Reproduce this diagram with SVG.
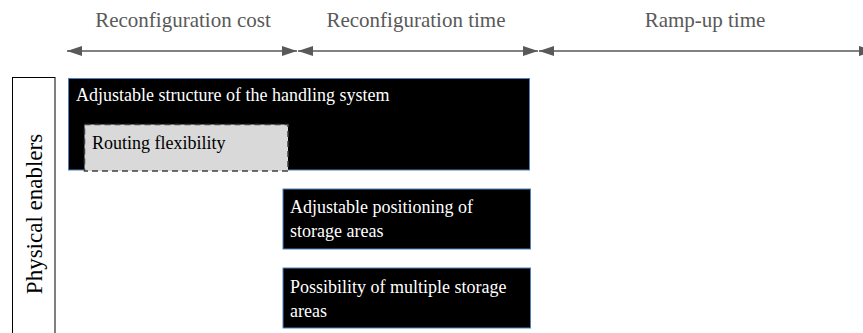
<svg xmlns="http://www.w3.org/2000/svg" width="863" height="333" viewBox="0 0 863 333">
<style>
text { font-family: "Liberation Serif", "Times New Roman", serif; }
.hdr { font-size: 21px; fill: #595959; text-anchor: middle; }
.axis { stroke: #595959; stroke-width: 1.5; fill: none; marker-start: url(#ah); marker-end: url(#ah); }
.blk { fill: #000000; stroke: #4f81bd; stroke-width: 1; }
.wt { font-size: 18px; fill: #ffffff; }
.bt { font-size: 18px; fill: #000000; }
</style>
<defs>
<marker id="ah" viewBox="0 0 15 10" refX="15" refY="5" markerWidth="15" markerHeight="10" markerUnits="userSpaceOnUse" orient="auto-start-reverse">
<path d="M0,0 L15,5 L0,10 Z" fill="#595959"/>
</marker>
</defs>
<g id="headers">
<text class="hdr" x="183" y="27">Reconfiguration cost</text>
<text class="hdr" x="416" y="27">Reconfiguration time</text>
<text class="hdr" x="705" y="27">Ramp-up time</text>
</g>
<g id="connectors">
<line class="axis" x1="67" y1="51" x2="297" y2="51"/>
<line class="axis" x1="298" y1="51" x2="538" y2="51"/>
<line class="axis" x1="539" y1="51" x2="874" y2="51"/>
</g>
<g id="label-physical">
<rect x="12.5" y="77.5" width="42.5" height="270" fill="#ffffff" stroke="#000000" stroke-width="1"/>
<text class="bt" style="font-size:23px" text-anchor="middle" transform="translate(42,214) rotate(-90)">Physical enablers</text>
</g>
<g id="node-structure">
<rect class="blk" x="68.5" y="78.5" width="461" height="91.5"/>
<text class="wt" x="76" y="101">Adjustable structure of the handling system</text>
</g>
<g id="node-routing">
<rect x="84.5" y="124.5" width="203.5" height="46.5" fill="#d9d9d9" stroke="#404040" stroke-width="1.5" stroke-dasharray="6,4"/>
<text class="bt" x="92" y="149">Routing flexibility</text>
</g>
<g id="node-positioning">
<rect class="blk" x="283" y="189" width="247.5" height="60"/>
<text class="wt" x="290" y="213">Adjustable positioning of</text>
<text class="wt" x="290" y="237">storage areas</text>
</g>
<g id="node-multiple">
<rect class="blk" x="283" y="268" width="247.5" height="60"/>
<text class="wt" x="290" y="293">Possibility of multiple storage</text>
<text class="wt" x="290" y="317">areas</text>
</g>
</svg>
